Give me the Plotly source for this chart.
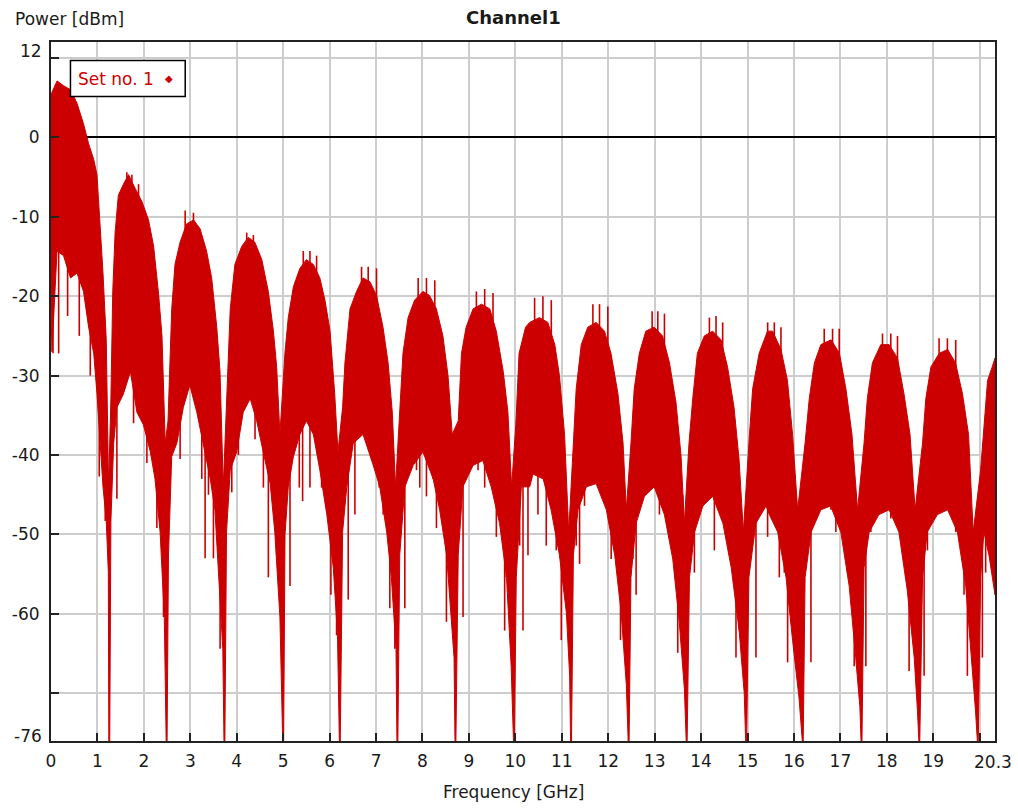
import plotly.graph_objects as go

# ---------------- data ----------------
# Upper edge of the red spectrum mass (frequency GHz, power dBm)
top_freq = [
    0.00, 0.02, 0.13, 0.27, 0.42, 0.56, 0.70, 0.81, 0.92, 0.99, 1.05, 1.12, 1.19, 1.24,
    1.29, 1.33, 1.38, 1.45, 1.56, 1.67, 1.81, 1.96, 2.10, 2.21, 2.32, 2.39, 2.46,
    2.52, 2.60, 2.67, 2.78, 2.92, 3.07, 3.21, 3.35, 3.46, 3.57, 3.64, 3.71,
    3.78, 3.86, 3.96, 4.11, 4.25, 4.39, 4.54, 4.68, 4.79, 4.86, 4.93,
    5.04, 5.11, 5.22, 5.36, 5.50, 5.65, 5.79, 5.90, 6.01, 6.11, 6.18,
    6.28, 6.33, 6.44, 6.58, 6.72, 6.87, 7.01, 7.15, 7.26, 7.35, 7.42,
    7.51, 7.58, 7.69, 7.83, 8.01, 8.15, 8.30, 8.44, 8.55, 8.64,
    8.77, 8.84, 8.94, 9.09, 9.27, 9.45, 9.59, 9.74, 9.84, 9.92,
    10.01, 10.08, 10.22, 10.31, 10.52, 10.70, 10.85, 10.95, 11.06, 11.15,
    11.25, 11.31, 11.42, 11.56, 11.74, 11.92, 12.06, 12.21, 12.32, 12.39,
    12.49, 12.56, 12.67, 12.81, 12.99, 13.17, 13.32, 13.46, 13.57, 13.64,
    13.74, 13.82, 13.92, 14.07, 14.25, 14.43, 14.57, 14.71, 14.82, 14.91,
    15.03, 15.11, 15.25, 15.43, 15.54, 15.72, 15.86, 15.97, 16.08,
    16.24, 16.33, 16.44, 16.58, 16.80, 16.98, 17.12, 17.25, 17.37,
    17.51, 17.58, 17.69, 17.87, 18.05, 18.23, 18.37, 18.50, 18.61,
    18.77, 18.84, 18.95, 19.13, 19.31, 19.48, 19.63, 19.76, 19.86,
    20.02, 20.09, 20.17, 20.27, 20.33,
]
top_dbm = [
    5.4, 5.7, 7.1, 6.5, 6.0, 4.3, 1.7, -0.8, -2.8, -4.7, -9.8, -17.1, -25.5, -44.0,
    -32.9, -19.4, -12.0, -7.3, -5.9, -4.7, -6.4, -8.1, -10.4, -13.7, -19.9, -25.0, -38.5,
    -35.7, -21.6, -16.0, -13.2, -10.9, -10.4, -11.5, -14.3, -17.7, -23.9, -29.5, -44.0,
    -32.9, -21.6, -16.0, -13.7, -12.6, -13.2, -15.4, -19.4, -24.4, -28.9, -37.4,
    -27.0, -22.7, -18.8, -16.5, -15.4, -16.0, -17.7, -20.5, -24.4, -32.3, -39.6,
    -34.0, -28.4, -21.6, -19.4, -17.7, -18.2, -19.9, -23.9, -28.4, -34.6, -44.0,
    -34.0, -27.2, -22.7, -20.5, -19.4, -19.9, -21.6, -25.0, -30.0, -37.4,
    -35.7, -27.2, -23.9, -21.6, -21.0, -21.6, -24.4, -29.5, -34.6, -44.0,
    -36.2, -27.2, -23.9, -23.3, -22.7, -23.3, -26.1, -30.0, -37.4, -49.7,
    -38.5, -31.7, -26.1, -23.9, -23.3, -24.4, -27.2, -32.3, -38.5, -46.9,
    -38.5, -31.7, -27.2, -24.4, -23.9, -25.0, -28.4, -33.4, -40.2, -48.6,
    -38.5, -32.9, -27.2, -25.0, -24.4, -25.5, -28.9, -34.0, -40.7, -49.7,
    -38.5, -31.7, -27.2, -24.4, -24.4, -26.7, -30.6, -37.4, -46.9,
    -38.5, -32.9, -28.4, -26.1, -25.5, -27.2, -31.7, -37.4, -46.9,
    -38.5, -32.9, -28.4, -26.1, -26.1, -27.8, -32.3, -37.4, -46.9,
    -38.5, -32.9, -28.9, -27.2, -26.7, -28.4, -32.3, -37.4, -49.7,
    -41.9, -36.2, -30.6, -28.9, -27.8,
]

# Lower edge of the red mass, including the deep nulls between lobes
bottom_freq = [
    0.00, 0.02, 0.13, 0.27, 0.42, 0.56, 0.70, 0.81, 0.92, 0.99, 1.06, 1.12, 1.19, 1.235,
    1.245, 1.265,
    1.29, 1.35, 1.42, 1.56, 1.71, 1.85, 1.99, 2.14, 2.24, 2.35, 2.44,
    2.48, 2.50,
    2.53, 2.60, 2.71, 2.85, 2.99, 3.14, 3.28, 3.43, 3.53, 3.64, 3.70,
    3.725, 3.745,
    3.78, 3.86, 4.00, 4.14, 4.29, 4.43, 4.57, 4.72, 4.82, 4.93,
    4.99, 5.01,
    5.04, 5.11, 5.22, 5.36, 5.50, 5.65, 5.79, 5.94, 6.08, 6.17,
    6.21, 6.23,
    6.28, 6.37, 6.51, 6.72, 6.94, 7.08, 7.23, 7.33, 7.43,
    7.45, 7.47,
    7.51, 7.62, 7.80, 8.01, 8.23, 8.37, 8.52, 8.62, 8.68,
    8.70, 8.72,
    8.77, 8.87, 9.09, 9.30, 9.48, 9.66, 9.81, 9.91,
    9.96, 9.98,
    10.02, 10.13, 10.31, 10.38, 10.60, 10.77, 10.95, 11.10, 11.17,
    11.19, 11.21,
    11.25, 11.35, 11.53, 11.74, 11.96, 12.14, 12.28, 12.39,
    12.43, 12.45,
    12.49, 12.60, 12.78, 12.99, 13.21, 13.39, 13.53, 13.64,
    13.68, 13.70,
    13.75, 13.86, 14.04, 14.25, 14.47, 14.65, 14.82, 14.93,
    14.96, 14.98,
    15.03, 15.18, 15.40, 15.47, 15.65, 15.83, 15.97, 16.11,
    16.18, 16.20,
    16.24, 16.37, 16.58, 16.79, 17.01, 17.19, 17.33, 17.42,
    17.445, 17.465,
    17.51, 17.62, 17.83, 18.05, 18.26, 18.44, 18.59, 18.66,
    18.69, 18.71,
    18.77, 18.87, 19.09, 19.31, 19.52, 19.70, 19.84, 19.91,
    19.95, 19.97,
    20.02, 20.09, 20.20, 20.33,
]
bottom_dbm = [
    -21.6, -27.0, -14.3, -14.9, -17.7, -17.1, -19.4, -23.9, -27.2, -32.3, -38.5, -44.0, -48.3, -54.8,
    -76, -76,
    -48.3, -38.5, -34.0, -32.3, -29.5, -34.6, -36.2, -39.6, -43.0, -49.7, -60.4,
    -76, -76,
    -52.6, -40.2, -38.5, -34.0, -31.2, -34.6, -38.5, -43.0, -46.9, -58.2, -64.4,
    -76, -76,
    -49.7, -41.9, -39.6, -34.6, -32.9, -35.7, -39.6, -43.6, -49.7, -60.4,
    -76, -76,
    -50.0, -44.0, -40.2, -37.4, -35.7, -37.4, -41.9, -47.5, -54.2, -62.7,
    -76, -76,
    -49.7, -44.0, -38.5, -37.4, -41.3, -44.0, -49.7, -55.4, -64.4,
    -76, -76,
    -52.6, -44.0, -41.3, -39.6, -43.0, -46.9, -52.6, -61.0, -65.5,
    -76, -76,
    -52.6, -44.0, -41.3, -40.7, -44.0, -48.6, -55.4, -66.6,
    -76, -76,
    -55.4, -44.0, -44.0, -42.4, -43.0, -46.9, -52.6, -59.9, -67.8,
    -76, -76,
    -52.6, -46.9, -44.0, -43.6, -46.9, -52.6, -59.9, -68.9,
    -76, -76,
    -55.4, -48.6, -45.2, -44.0, -47.5, -53.1, -61.0, -69.4,
    -76, -76,
    -55.4, -49.7, -46.4, -45.2, -48.6, -54.2, -62.1, -70.0,
    -76, -76,
    -55.4, -48.6, -46.4, -47.5, -49.7, -55.4, -63.3, -70.6,
    -76, -76,
    -55.4, -49.7, -46.9, -46.4, -49.7, -56.5, -65.5, -71.7,
    -76, -76,
    -54.2, -49.7, -47.5, -46.9, -49.7, -57.0, -65.5, -72.2,
    -76, -76,
    -55.4, -49.7, -47.5, -46.9, -49.7, -56.5, -66.6, -72.2,
    -76, -76,
    -55.4, -49.7, -52.6, -57.6,
]

# Individual spikes that stick out of the mass (frequency, lower end, upper end)
spike_freq = [
    0.043, 0.165, 0.358, 0.609, 0.846, 1.039, 1.168,
    1.419, 1.778, 2.065, 2.28, 2.423,
    2.781, 3.247, 3.319, 3.391, 3.498, 3.642,
    3.893, 4.036, 4.394, 4.574, 4.681, 4.789, 4.86,
    5.147, 5.347, 5.419, 5.577, 5.828, 5.899, 5.921, 6.028, 6.114, 6.15,
    6.329, 6.401, 6.545, 6.795, 6.903, 7.01, 7.068, 7.154, 7.297, 7.355, 7.405,
    7.548, 7.62, 7.871, 7.942, 8.028, 8.086, 8.229, 8.301, 8.516, 8.587,
    8.803, 8.874, 9.147, 9.197, 9.34, 9.412, 9.534, 9.591, 9.77, 9.806,
    10.093, 10.165, 10.272, 10.487, 10.666, 10.774, 10.881, 10.989, 11.06,
    11.311, 11.383, 11.49, 11.634, 11.777, 11.956, 12.064, 12.265,
    12.53, 12.601, 12.852, 12.996, 13.103, 13.247, 13.39, 13.498, 13.605,
    13.856, 14.143, 14.286, 14.358, 14.537, 14.645, 14.752, 14.824,
    15.11, 15.182, 15.326, 15.433, 15.541, 15.685, 15.792, 15.864, 15.936,
    16.294, 16.366, 16.617, 16.796, 16.903, 17.047, 17.154, 17.226, 17.298,
    17.549, 17.656, 17.871, 18.086, 18.265, 18.373, 18.409, 18.48,
    18.803, 18.875, 19.09, 19.305, 19.484, 19.556, 19.663, 19.735, 19.785,
    20.058, 20.129,
    1.634, 1.742, 1.885, 2.889, 3.068, 4.215, 4.358,
    5.433, 5.577, 5.72, 6.688, 6.831, 7.01, 7.907, 8.086, 8.265,
    9.161, 9.34, 9.519, 10.415, 10.594, 10.774, 11.67, 11.813, 11.992,
    12.946, 13.068, 13.211, 14.179, 14.322, 14.465, 15.434, 15.577, 15.72,
    16.652, 16.832, 16.975, 17.907, 18.086, 18.23, 19.126, 19.305, 19.484,
]
spike_low = [
    -27.2, -27.2, -22.5, -25.0, -30.0, -42.7, -48.3,
    -45.5, -36.0, -41.0, -49.2, -60.4,
    -40.5, -43.0, -53.0, -45.0, -53.0, -64.4,
    -44.7, -40.0, -38.0, -44.1, -55.4, -45.0, -52.6,
    -56.5, -44.1, -45.8, -44.1, -44.1, -40.7, -46.4, -57.6, -51.4, -62.7,
    -43.0, -58.2, -47.5, -38.2, -38.5, -41.9, -44.1, -47.5, -59.3, -49.7, -64.4,
    -44.1, -59.3, -41.9, -44.1, -37.4, -45.2, -43.0, -49.2, -61.0, -49.7,
    -46.9, -60.4, -36.8, -41.9, -44.1, -41.9, -44.1, -50.3, -62.1, -55.4,
    -51.4, -62.1, -52.6, -47.5, -51.4, -37.9, -52.0, -63.3, -53.7,
    -51.4, -53.7, -46.4, -41.9, -43.3, -46.4, -53.1, -63.3,
    -53.1, -57.6, -39.6, -44.1, -47.5, -44.1, -52.0, -64.9, -55.4,
    -54.8, -40.7, -52.0, -44.1, -49.2, -52.6, -65.5, -62.1,
    -49.7, -65.5, -40.7, -50.3, -44.1, -55.4, -54.8, -66.1, -55.4,
    -49.7, -66.1, -41.9, -46.9, -49.7, -47.5, -54.8, -57.1, -66.6,
    -66.6, -49.7, -43.0, -48.0, -44.1, -52.0, -55.4, -67.2,
    -67.8, -52.0, -43.0, -46.4, -49.7, -44.1, -57.6, -67.8, -58.2,
    -65.5, -54.8,
    -8.0, -8.0, -9.0, -13.0, -13.0, -15.0, -15.0,
    -18.0, -18.0, -18.0, -20.0, -20.0, -22.0, -22.0, -22.0, -23.0,
    -24.0, -24.0, -24.0, -25.0, -25.0, -27.0, -26.0, -26.0, -27.0,
    -26.0, -26.0, -27.0, -27.0, -27.0, -28.0, -27.0, -27.0, -29.0,
    -28.0, -28.0, -29.0, -29.0, -29.0, -30.0, -30.0, -30.0, -31.0,
]
spike_high = [
    -10.0, -5.0, -5.0, -10.0, -15.0, -20.0, -30.0,
    -25.0, -20.0, -25.0, -30.0, -40.0,
    -25.0, -25.0, -30.0, -30.0, -35.0, -40.0,
    -30.0, -25.0, -25.0, -30.0, -30.0, -35.0, -40.0,
    -40.0, -30.0, -30.0, -30.0, -30.0, -30.0, -30.0, -40.0, -40.0, -45.0,
    -35.0, -35.0, -30.0, -30.0, -30.0, -30.0, -30.0, -35.0, -40.0, -40.0, -45.0,
    -38.0, -38.0, -30.0, -30.0, -30.0, -30.0, -30.0, -35.0, -40.0, -40.0,
    -40.0, -40.0, -30.0, -30.0, -30.0, -30.0, -30.0, -35.0, -40.0, -40.0,
    -38.0, -38.0, -35.0, -35.0, -35.0, -30.0, -35.0, -40.0, -45.0,
    -40.0, -38.0, -35.0, -35.0, -35.0, -35.0, -35.0, -42.0,
    -40.0, -40.0, -32.0, -32.0, -35.0, -35.0, -38.0, -42.0, -45.0,
    -40.0, -33.0, -35.0, -35.0, -35.0, -40.0, -42.0, -45.0,
    -40.0, -40.0, -33.0, -35.0, -35.0, -38.0, -38.0, -40.0, -45.0,
    -42.0, -40.0, -35.0, -35.0, -35.0, -35.0, -38.0, -40.0, -45.0,
    -40.0, -38.0, -35.0, -35.0, -35.0, -38.0, -40.0, -42.0,
    -42.0, -40.0, -35.0, -35.0, -35.0, -35.0, -40.0, -42.0, -45.0,
    -45.0, -40.0,
    -4.4, -4.7, -5.9, -9.2, -9.5, -12.0, -12.3,
    -14.3, -14.3, -14.9, -16.3, -16.3, -16.5, -17.7, -17.7, -18.0,
    -19.4, -19.1, -19.6, -20.2, -20.0, -20.5, -21.0, -21.0, -21.3,
    -21.9, -21.9, -22.2, -22.7, -22.5, -23.3, -23.3, -23.3, -23.9,
    -24.1, -24.1, -24.1, -24.7, -24.7, -25.0, -25.3, -25.3, -25.5,
]

x_ticks = list(range(0, 21))
x_tick_text = [str(v) for v in range(0, 20)] + [""]
y_ticks = [-70, -60, -50, -40, -30, -20, -10, 0, 10]
y_tick_text = ["", "-60", "-50", "-40", "-30", "-20", "-10", "0", ""]
X_MAX = 20.33
Y_MIN, Y_MAX = -76, 12

RED = "rgb(204,0,0)"
TXT = "#1a1a1a"
FONT = "DejaVu Sans"

# ---------------- figure ----------------
W, H = 1018, 808
ML, MR, MT, MB = 49, 23, 42, 67
PW, PH = W - ML - MR, H - MT - MB


def px(xpix):
    return (xpix - ML) / PW


def py(ypix):
    return (H - MB - ypix) / PH


fig = go.Figure()
fig.add_trace(go.Scatter(
    x=top_freq + bottom_freq[::-1],
    y=top_dbm + bottom_dbm[::-1],
    mode="lines",
    fill="toself",
    fillcolor=RED,
    line=dict(color=RED, width=1),
    hoverinfo="skip",
    showlegend=False,
))

sx, sy = [], []
for f, lo, hi in zip(spike_freq, spike_low, spike_high):
    sx += [f, f, None]
    sy += [lo, hi, None]
fig.add_trace(go.Scatter(
    x=sx, y=sy, mode="lines", line=dict(color=RED, width=1.6),
    hoverinfo="skip", showlegend=False, connectgaps=False,
))

fig.update_layout(
    width=W, height=H,
    margin=dict(l=ML, r=MR, t=MT, b=MB, pad=0),
    paper_bgcolor="white", plot_bgcolor="white",
    font=dict(family=FONT, size=17, color=TXT),
    showlegend=False,
)
fig.update_xaxes(
    range=[0, X_MAX], tickvals=x_ticks, ticktext=x_tick_text,
    showgrid=True, gridcolor="#cdcdcd", gridwidth=1.5,
    showline=True, linecolor="#222222", linewidth=2, mirror=True,
    ticks="inside", ticklen=8, tickwidth=1.5, tickcolor="#222222",
    zeroline=False, ticklabelstandoff=4,
    tickfont=dict(family=FONT, size=17, color=TXT),
)
fig.update_yaxes(
    range=[Y_MIN, Y_MAX], tickvals=y_ticks, ticktext=y_tick_text,
    showgrid=True, gridcolor="#cdcdcd", gridwidth=1.5,
    showline=True, linecolor="#222222", linewidth=2, mirror=True,
    ticks="inside", ticklen=8, tickwidth=1.5, tickcolor="#222222",
    zeroline=True, zerolinecolor="black", zerolinewidth=1.5,
    ticklabelstandoff=6,
    tickfont=dict(family=FONT, size=17, color=TXT),
)

fig.add_shape(type="rect", xref="paper", yref="paper",
              x0=px(68.5), x1=px(183.5), y0=py(96.5), y1=py(60.5),
              line=dict(color="black", width=1.5), fillcolor="white", layer="above")

ann = [
    dict(text="<b>Channel1</b>", x=px(512), y=py(18), font=dict(size=18)),
    dict(text="Power [dBm]", x=px(11), y=py(19), xanchor="left", font=dict(size=17)),
    dict(text="Frequency [GHz]", x=px(512), y=py(792), font=dict(size=17)),
    dict(text="20.3", x=px(993), y=py(762), font=dict(size=17)),
    dict(text="12", x=px(42), y=py(51), xanchor="right", font=dict(size=17)),
    dict(text="-76", x=px(42), y=py(736), xanchor="right", font=dict(size=17)),
    dict(text="Set no. 1", x=px(74), y=py(79), xanchor="left", font=dict(size=17, color=RED)),
    dict(text="\u25c6", x=px(167.5), y=py(78), font=dict(size=10, color=RED)),
]
for a in ann:
    a.setdefault("xanchor", "center")
    fig.add_annotation(xref="paper", yref="paper", yanchor="middle",
                       showarrow=False, **a)

fig.write_html("out.html")
